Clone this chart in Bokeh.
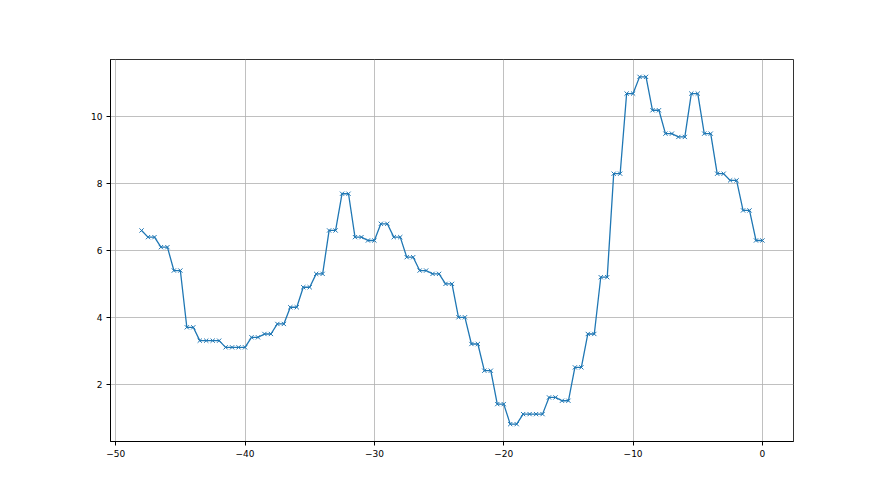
import numpy as np
from bokeh.plotting import figure
from bokeh.models import FixedTicker, Range1d
from bokeh.embed import file_html
from bokeh.resources import INLINE

# data
x_vals = [(-48 + 0.5 * i) for i in range(97)]
y_vals = [6.6,
          6.4, 6.4, 6.1, 6.1, 5.4, 5.4, 3.7, 3.7,
          3.3, 3.3, 3.3, 3.3, 3.1, 3.1, 3.1, 3.1,
          3.4, 3.4, 3.5, 3.5, 3.8, 3.8, 4.3, 4.3,
          4.9, 4.9, 5.3, 5.3, 6.6, 6.6, 7.7, 7.7,
          6.4, 6.4, 6.3, 6.3, 6.8, 6.8, 6.4, 6.4,
          5.8, 5.8, 5.4, 5.4, 5.3, 5.3, 5.0, 5.0,
          4.0, 4.0, 3.2, 3.2, 2.4, 2.4, 1.4, 1.4,
          0.8, 0.8, 1.1, 1.1, 1.1, 1.1, 1.6, 1.6,
          1.5, 1.5, 2.5, 2.5, 3.5, 3.5, 5.2, 5.2,
          8.3, 8.3, 10.7, 10.7, 11.2, 11.2, 10.2, 10.2,
          9.5, 9.5, 9.4, 9.4, 10.7, 10.7, 9.5, 9.5,
          8.3, 8.3, 8.1, 8.1, 7.2, 7.2, 6.3, 6.3]
x_ticks = [-50, -40, -30, -20, -10, 0]
y_ticks = [2, 4, 6, 8, 10]

p = figure(width=872, height=487, output_backend="svg", toolbar_location=None,
           frame_width=683, frame_height=382,
           x_range=Range1d(-50.4, 2.4), y_range=Range1d(0.28, 11.72))
p.min_border_left = 110
p.min_border_right = 79
p.min_border_top = 59
p.min_border_bottom = 46

p.background_fill_color = "white"
p.border_fill_color = "white"
p.outline_line_color = "black"
p.outline_line_width = 1
p.outline_line_alpha = 0.8

p.xaxis.ticker = FixedTicker(ticks=x_ticks)
p.yaxis.ticker = FixedTicker(ticks=y_ticks)
p.xaxis.major_label_overrides = {t: ("\u2212" + str(abs(t)) if t < 0 else str(t)) for t in x_ticks}

for ax in (p.xaxis, p.yaxis):
    ax.axis_line_color = "black"
    ax.major_tick_line_color = "black"
    ax.major_tick_out = 4
    ax.major_tick_in = 0
    ax.minor_tick_line_color = None
    ax.major_label_text_font = "DejaVu Sans"
    ax.major_label_text_font_size = "9px"
    ax.major_label_text_color = "black"
    ax.major_label_standoff = 4

p.grid.grid_line_color = "#b0b0b0"
p.grid.grid_line_width = 0.8

p.line(x_vals, y_vals, line_color="#1f77b4", line_width=1.3)
p.scatter(x_vals, y_vals, marker="x", size=6, line_color="#1f77b4", line_width=1)

open("out.html", "w").write(file_html(p, INLINE))
